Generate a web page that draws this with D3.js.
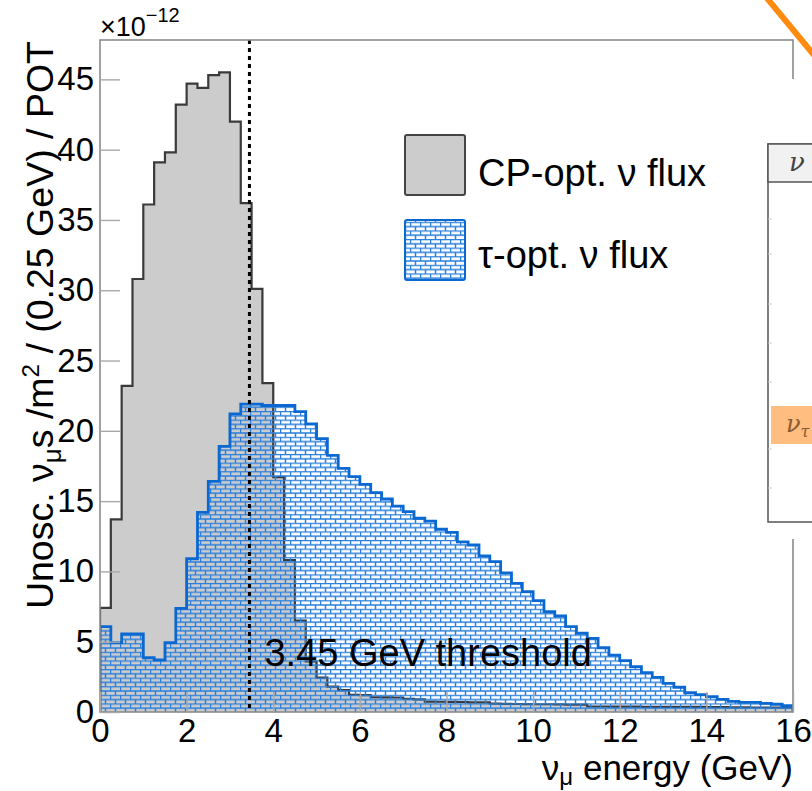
<!DOCTYPE html>
<html><head><meta charset="utf-8">
<script src="https://cdn.jsdelivr.net/npm/d3@7"></script>
<style>
html,body{margin:0;padding:0;background:#fff;overflow:hidden}
svg{display:block;font-family:"Liberation Sans",Arial,Helvetica,sans-serif}
</style></head><body>
<svg id="chart" width="812" height="791"></svg>
<script>
// Unoscillated nu_mu flux per 0.25 GeV bin, in units of 1e-12 nu/m^2/POT
const binWidth = 0.25;
const cpFlux = [
  7.4, 13.7, 23.2, 30.8, 36.1, 39.1, 39.8, 43.2, 44.7, 44.4, 45.3, 45.5,
  42.0, 36.2, 30.1, 23.4, 16.7, 10.8, 6.5, 3.6, 2.45, 1.8, 1.56, 1.22,
  1.2, 1.05, 1.04, 1.03, 0.93, 0.9, 0.74, 0.73, 0.72, 0.71, 0.69, 0.68,
  0.6, 0.58, 0.57, 0.56, 0.55, 0.55, 0.54, 0.53, 0.52, 0.39, 0.39, 0.38,
  0.38, 0.38, 0.37, 0.37, 0.37, 0.36, 0.36, 0.36, 0.35, 0.35, 0.33, 0.33,
  0.32, 0.32, 0.31, 0.31
];
const tauFlux = [
  6.07, 4.93, 5.55, 5.55, 3.86, 3.7, 4.93, 7.37, 10.9, 14.2, 16.4, 18.9,
  21.2, 21.9, 21.9, 21.8, 21.8, 21.8, 21.36, 20.5, 19.44, 18.26, 17.33, 16.74,
  16.19, 15.6, 15.15, 14.65, 14.25, 13.78, 13.58, 13.0, 12.78, 12.1, 11.88, 11.1,
  10.7, 9.9, 9.15, 8.56, 7.92, 7.13, 6.83, 6.07, 5.6, 5.24, 4.57, 4.05,
  3.65, 3.22, 2.8, 2.47, 2.04, 1.76, 1.37, 1.23, 1.09, 0.9, 0.76, 0.69,
  0.69, 0.62, 0.55, 0.45
];
const xTicks = [0, 2, 4, 6, 8, 10, 12, 14, 16];
const yTicks = [0, 5, 10, 15, 20, 25, 30, 35, 40, 45];
const threshold = 3.45;
const thresholdLabel = "3.45 GeV threshold";
const legendLabels = ["CP-opt. \u03bd flux", "\u03c4-opt. \u03bd flux"];

const svg = d3.select("#chart");
const padL = 100, padR = 793, padT = 40, padB = 712;
const x = d3.scaleLinear().domain([0, 16]).range([padL, padR]);
const y = d3.scaleLinear().domain([0, 47.8]).range([padB, padT]);

// brick hatch used for the tau-optimised flux
const defs = svg.append("defs");
const pat = defs.append("pattern").attr("id", "brick")
  .attr("patternUnits", "userSpaceOnUse")
  .attr("width", 10).attr("height", 8.6)
  .attr("x", padL).attr("y", padB);
const bc = "#2b7fdc", bw = 1.5;
pat.append("line").attr("x1", 0).attr("x2", 10).attr("y1", 0.5).attr("y2", 0.5).attr("stroke", bc).attr("stroke-width", bw);
pat.append("line").attr("x1", 0).attr("x2", 10).attr("y1", 4.8).attr("y2", 4.8).attr("stroke", bc).attr("stroke-width", bw);
pat.append("line").attr("x1", 0.5).attr("x2", 0.5).attr("y1", 0.5).attr("y2", 4.8).attr("stroke", bc).attr("stroke-width", bw);
pat.append("line").attr("x1", 5.5).attr("x2", 5.5).attr("y1", 4.8).attr("y2", 8.6).attr("stroke", bc).attr("stroke-width", bw);

defs.append("clipPath").attr("id", "plotClip").append("rect")
  .attr("x", padL).attr("y", padT).attr("width", padR - padL).attr("height", padB - padT);

function areaPts(vals) {
  const p = vals.map((v, i) => [i * binWidth, v]);
  p.push([vals.length * binWidth, vals[vals.length - 1]]);
  return p;
}
function linePts(vals) {
  const p = [[0, 0]].concat(vals.map((v, i) => [i * binWidth, v]));
  p.push([vals.length * binWidth, 0]);
  return p;
}
const area = d3.area().curve(d3.curveStepAfter)
  .x(d => x(d[0])).y0(y(0)).y1(d => y(d[1]));
const line = d3.line().curve(d3.curveStepAfter)
  .x(d => x(d[0])).y(d => y(d[1]));

const plot = svg.append("g").attr("clip-path", "url(#plotClip)");
plot.append("path").attr("d", area(areaPts(cpFlux))).attr("fill", "#cccccc");
plot.append("path").attr("d", line(linePts(cpFlux))).attr("fill", "none")
  .attr("stroke", "#3a3a3a").attr("stroke-width", 2.2);
plot.append("path").attr("d", area(areaPts(tauFlux))).attr("fill", "url(#brick)");
plot.append("path").attr("d", line(linePts(tauFlux))).attr("fill", "none")
  .attr("stroke", "#0a68d0").attr("stroke-width", 2.8);

// threshold marker
plot.append("line").attr("x1", x(threshold)).attr("x2", x(threshold))
  .attr("y1", padT).attr("y2", padB)
  .attr("stroke", "#000").attr("stroke-width", 3).attr("stroke-dasharray", "4,4");
svg.append("text").attr("x", x(threshold) + 15).attr("y", 666)
  .attr("font-size", 38).attr("fill", "#000").text(thresholdLabel);

// frame
svg.append("rect").attr("x", padL).attr("y", padT).attr("width", padR - padL).attr("height", padB - padT)
  .attr("fill", "none").attr("stroke", "#8a8a8a").attr("stroke-width", 1.6);

// axes
const axisColor = "#a8a8a8";
const gx = svg.append("g").attr("transform", `translate(0,${padB})`)
  .call(d3.axisBottom(x).tickValues(xTicks).tickSize(-20).tickPadding(7).tickFormat(d3.format("d")));
const gy = svg.append("g").attr("transform", `translate(${padL},0)`)
  .call(d3.axisLeft(y).tickValues(yTicks).tickSize(-20).tickPadding(6).tickFormat(d3.format("d")));
[gx, gy].forEach(g => {
  g.select(".domain").remove();
  g.selectAll(".tick line").attr("stroke", axisColor).attr("stroke-width", 1.4);
  g.selectAll(".tick text").attr("font-size", 33).attr("fill", "#000")
    .attr("font-family", "Liberation Sans, Arial, sans-serif");
});

// exponent
const ex = svg.append("text").attr("x", padL).attr("y", 36).attr("font-size", 27).attr("fill", "#000");
ex.append("tspan").text("\u00d710");
ex.append("tspan").attr("dy", -14).attr("font-size", 20).text("\u221212");

// axis titles
const yt = svg.append("text").attr("transform", "translate(53,41) rotate(-90)")
  .attr("text-anchor", "end").attr("font-size", 37.5).attr("fill", "#000");
yt.append("tspan").text("Unosc. \u03bd");
yt.append("tspan").attr("dy", 8).attr("font-size", 26).text("\u03bc");
yt.append("tspan").attr("dy", -8).text("s /m");
yt.append("tspan").attr("dy", -14).attr("font-size", 24).text("2");
yt.append("tspan").attr("dy", 14).text(" / (0.25 GeV) / POT");

const xt = svg.append("text").attr("x", padR).attr("y", 780)
  .attr("text-anchor", "end").attr("font-size", 35).attr("fill", "#000");
xt.append("tspan").text("\u03bd");
xt.append("tspan").attr("dy", 5).attr("font-size", 24).text("\u03bc");
xt.append("tspan").attr("dy", -5).text(" energy (GeV)");

// legend
const legend = svg.append("g");
legend.append("rect").attr("x", 405).attr("y", 135).attr("width", 60).attr("height", 60)
  .attr("rx", 2).attr("fill", "#cccccc").attr("stroke", "#444").attr("stroke-width", 2);
legend.append("rect").attr("x", 405).attr("y", 220).attr("width", 60).attr("height", 60)
  .attr("rx", 2).attr("fill", "#fff").attr("stroke", "#0a68d0").attr("stroke-width", 2);
legend.append("rect").attr("x", 406).attr("y", 221).attr("width", 58).attr("height", 58)
  .attr("fill", "url(#brick)");
legend.append("text").attr("x", 478).attr("y", 186).attr("font-size", 38).attr("fill", "#000").text(legendLabels[0]);
legend.append("text").attr("x", 478).attr("y", 268).attr("font-size", 38).attr("fill", "#000").text(legendLabels[1]);

// neighbouring panel at the right edge
const side = svg.append("g");
side.append("rect").attr("x", 760).attr("y", 79).attr("width", 60).attr("height", 460).attr("fill", "#fff");
side.append("line").attr("x1", 766).attr("y1", -3).attr("x2", 814).attr("y2", 55)
  .attr("stroke", "#ff8a10").attr("stroke-width", 6);
side.append("rect").attr("x", 768).attr("y", 144).attr("width", 60).attr("height", 378)
  .attr("fill", "#fff").attr("stroke", "#555").attr("stroke-width", 1.5);
side.append("rect").attr("x", 768).attr("y", 144).attr("width", 60).attr("height", 38)
  .attr("fill", "#f1f1f1").attr("stroke", "#555").attr("stroke-width", 1.5);
side.append("text").attr("x", 789).attr("y", 171).attr("font-size", 26)
  .attr("font-family", "DejaVu Serif, serif").attr("font-style", "italic").attr("fill", "#444").text("\u03bd");
[219, 254, 304, 343, 382, 449, 488].forEach(r => {
  side.append("line").attr("x1", 768).attr("x2", 772).attr("y1", r).attr("y2", r)
    .attr("stroke", "#ccc").attr("stroke-width", 1);
});
side.append("rect").attr("x", 771).attr("y", 406).attr("width", 45).attr("height", 38).attr("fill", "#ffbd80");
const nt = side.append("text").attr("x", 786).attr("y", 432).attr("font-size", 24)
  .attr("font-family", "DejaVu Serif, serif").attr("font-style", "italic").attr("fill", "#8a5a30");
nt.append("tspan").text("\u03bd");
nt.append("tspan").attr("dy", 5).attr("font-size", 16).text("\u03c4");
</script>
</body></html>
